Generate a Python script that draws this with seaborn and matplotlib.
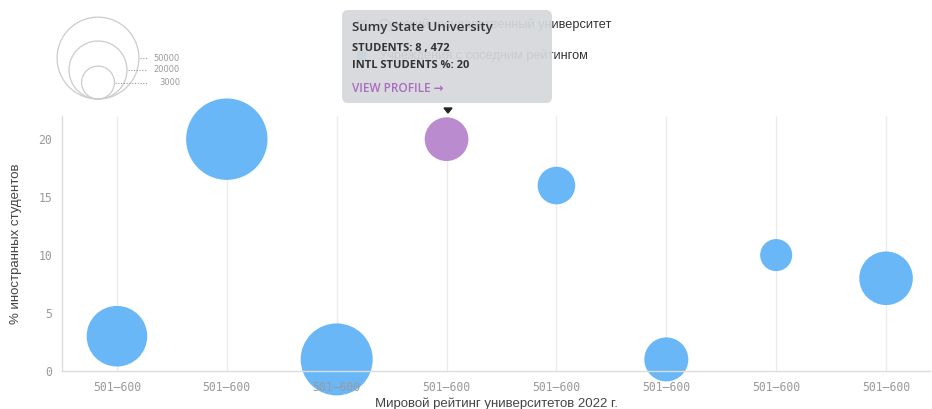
import numpy as np
import pandas as pd
import matplotlib
matplotlib.use("Agg")
import matplotlib.pyplot as plt
from matplotlib.patches import Circle, FancyBboxPatch, Polygon, Rectangle
import seaborn as sns

# ---- data ----
rank_labels = ["501–600"] * 8
intl_pct = [3, 20, 1, 20, 16, 1, 10, 8]
students = [22600, 49300, 36000, 8472, 5050, 8670, 2700, 15900]
groups = ["Учреждения с соседним рейтингом", "Учреждения с соседним рейтингом",
          "Учреждения с соседним рейтингом", "Сумский государственный университет",
          "Учреждения с соседним рейтингом", "Учреждения с соседним рейтингом",
          "Учреждения с соседним рейтингом", "Учреждения с соседним рейтингом"]
legend_sizes = [50000, 20000, 3000]
legend_labels = ["Сумский государственный университет", "Учреждения с соседним рейтингом"]

BLUE = "#64b5f6"
PURPLE = "#b987cf"
W, H, DPI = 932, 409, 100


def radius_px(s):
    return 8.5 + 0.145 * np.sqrt(s)


df = pd.DataFrame({"pos": np.arange(len(rank_labels)), "intl": intl_pct,
                   "students": students, "group": groups})
size_map = {s: (2 * radius_px(s) * 72 / DPI) ** 2 for s in df["students"]}

sns.set_theme(style="white")
plt.rcParams["font.family"] = ["Liberation Sans", "DejaVu Sans"]

fig = plt.figure(figsize=(W / DPI, H / DPI), dpi=DPI)
ax = fig.add_axes([62 / W, (H - 371) / H, 868 / W, 255 / H])

ax.vlines(df["pos"], 0, 22, color="#ebebeb", lw=1, zorder=0)
sns.scatterplot(data=df, x="pos", y="intl", hue="group", size="students",
                sizes=size_map, palette={legend_labels[0]: PURPLE, legend_labels[1]: BLUE},
                legend=False, ax=ax, linewidth=0, alpha=0.97, clip_on=False, zorder=1)

ax.set_xlim(-0.5, 7.4)
ax.set_ylim(0, 22)
ax.set_xticks(df["pos"])
ax.set_xticklabels(rank_labels, family="DejaVu Sans Mono", fontsize=8.3, color="#9a9a9a")
ax.set_yticks([0, 5, 10, 15, 20])
ax.set_yticklabels(["0", "5", "10", "15", "20"], family="DejaVu Sans Mono", fontsize=8.3, color="#9a9a9a")
ax.tick_params(axis="both", length=5, width=0.8, color="#cccccc", pad=2)
for side in ["top", "right"]:
    ax.spines[side].set_visible(False)
for side in ["left", "bottom"]:
    ax.spines[side].set_color("#dddddd")
    ax.spines[side].set_linewidth(1)
ax.xaxis.set_zorder(3)
ax.set_xlabel("Мировой рейтинг университетов 2022 г.", fontsize=9.5, color="#444444", labelpad=3)
ax.set_ylabel("% иностранных студентов", fontsize=9.5, color="#444444", labelpad=12)

# ---- overlay in pixel coordinates ----
ov = fig.add_axes([0, 0, 1, 1])
ov.set_xlim(0, W)
ov.set_ylim(H, 0)
ov.axis("off")
ov.set_facecolor("none")

# size legend
cx, base = 98, 99
for s in legend_sizes:
    r = radius_px(s)
    cy = base - r
    ov.add_patch(Circle((cx, cy), r, fill=False, ec="#cccccc", lw=0.9))
    ov.plot([cx + r + 1, 147], [cy, cy], ls=(0, (1, 1.5)), color="#999999", lw=0.8)
    ov.text(180, cy, str(s), ha="right", va="center", fontsize=6, color="#999999",
            family="DejaVu Sans")

# color legend (under the tooltip)
ov.add_patch(Rectangle((357, 20), 10, 10, color=PURPLE, lw=0, zorder=1))
ov.add_patch(Rectangle((357, 51), 10, 10, color=BLUE, lw=0, zorder=1))
ov.text(379, 25, legend_labels[0], ha="left", va="center", fontsize=9.2, color="#333333", zorder=1)
ov.text(379, 56, legend_labels[1], ha="left", va="center", fontsize=9.2, color="#333333", zorder=1)

# tooltip
ov.add_patch(FancyBboxPatch((342, 10), 210, 93, boxstyle="round,pad=0,rounding_size=6",
                            fc="#d5d8db", ec="none", alpha=0.93, zorder=5))
ov.add_patch(Polygon([[444, 108], [452, 108], [448, 113]], closed=True, color="#222222", zorder=5))
tf = ["Open Sans", "DejaVu Sans"]
ov.text(352, 27, "Sumy State University", fontsize=9.5, fontweight="semibold",
        color="#333333", family=tf, va="center", zorder=6)
ov.text(352, 48, "STUDENTS: 8 , 472", fontsize=8, fontweight="bold",
        color="#333333", family=tf, va="center", zorder=6)
ov.text(352, 66, "INTL STUDENTS %: 20", fontsize=8, fontweight="bold",
        color="#333333", family=tf, va="center", zorder=6)
ov.text(352, 89, "VIEW PROFILE →", fontsize=8.5, fontweight="semibold",
        color="#a86cc0", family=tf, va="center", zorder=6)

fig.savefig("out.png", dpi=DPI)
